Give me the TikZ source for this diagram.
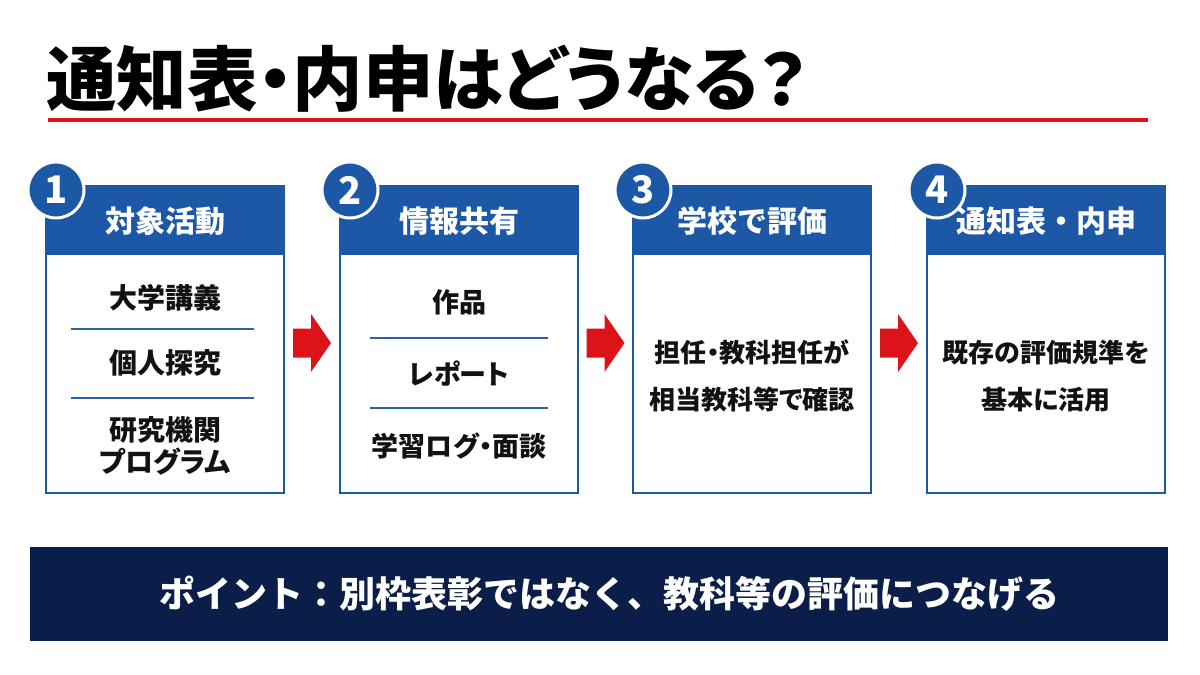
\documentclass[tikz,border=0pt]{standalone}
\usepackage{fontspec}
\setmainfont{Noto Sans CJK JP}
\newfontfamily\jpp{Noto Sans CJK JP}[RawFeature=+palt]
\usepackage{xcolor}
\usepackage{tikz}
\usetikzlibrary{calc,positioning}
\definecolor{cHdr}{HTML}{1D58A6}
\definecolor{cSep}{HTML}{2D62AA}
\definecolor{cNavy}{HTML}{0B1E4A}
\definecolor{cRed}{HTML}{DC1419}
\definecolor{cInk}{HTML}{121212}

\begin{document}
\begin{tikzpicture}[x=0.5pt,y=-0.5pt,
  box/.style={draw=cHdr,line width=1.3pt,fill=white,minimum width=119pt,
    minimum height=153.5pt,inner sep=0pt,outer sep=0pt},
  hd/.style={fill=cHdr,minimum width=120.3pt,minimum height=34.5pt,inner sep=0pt,
    anchor=north,text=white,font=\bfseries\fontsize{15}{18}\selectfont},
  num/.style={circle,fill=cHdr,draw=white,line width=1.5pt,minimum size=28pt,
    inner sep=0pt,text=white,font=\bfseries\fontsize{19}{20}\selectfont},
  itm/.style={text=cInk,align=center,inner sep=1pt,
    font=\jpp\bfseries\fontsize{13.5}{16}\selectfont},
  sep/.style={draw=cSep,line width=0.9pt},
  blk/.style={fill=cRed,draw=none}]

  \useasboundingbox[fill=white] (0,0) rectangle (1200,675);

  % title
  \node[anchor=west,inner sep=0pt,text=black,font=\jpp\bfseries\fontsize{35.2}{38}\selectfont]
    (title) at (46,79) {通知表・内申はどうなる？};
  \draw[cRed,line width=2pt] (48,120) -- (1148,120);

  % the four steps
  \foreach \i/\x/\h in {1/165/対象活動,2/459/情報共有,3/752/学校で評価,4/1046/通知表・内申}
    {\node[box] (box\i) at (\x,339.5) {};
     \node[hd] (hd\i) at (box\i.north) {\h};
     \node[num] (n\i) at ($(box\i.north west)+(10,4)$) {\i};}

  \node[itm,font=\jpp\bfseries\fontsize{14}{16}\selectfont] (it1a) at (165,298) {大学講義};
  \node[itm,font=\jpp\bfseries\fontsize{14}{16}\selectfont] (it1b) at (165,363) {個人探究};
  \node[itm,font=\jpp\bfseries\fontsize{14}{16}\selectfont] (it1c) at (165,446) {研究機関\\プログラム};
  \draw[sep] ($(box1.north west)+(25,143)$) -- ($(box1.north east)+(-30,143)$);
  \draw[sep] ($(box1.north west)+(25,212)$) -- ($(box1.north east)+(-30,212)$);

  \node[itm] (it2a) at (459,302) {作品};
  \node[itm] (it2b) at (459,374) {レポート};
  \node[itm] (it2c) at (459,446) {学習ログ・面談};
  \draw[sep] ($(box2.north west)+(30,152)$) -- ($(box2.north east)+(-30,152)$);
  \draw[sep] ($(box2.north west)+(30,222)$) -- ($(box2.north east)+(-30,222)$);

  \node[itm,font=\jpp\bfseries\fontsize{13}{23.5}\selectfont] (it3) at (752,376) {担任・教科担任が\\相当教科等で確認};
  \node[itm,font=\jpp\bfseries\fontsize{13}{23.5}\selectfont] (it4) at (1046,376) {既存の評価規準を\\基本に活用};

  % block arrows between the steps
  \foreach \a/\b in {1/2,2/3,3/4}
    {\coordinate (ar\a) at ($(box\a.east)!0.5!(box\b.west)+(0,3.5)$);
     \fill[blk] ($(ar\a)+(-19,-14.5)$) -- ($(ar\a)+(-1,-14.5)$) -- ($(ar\a)+(-1,-29)$)
       -- ($(ar\a)+(19,0)$) -- ($(ar\a)+(-1,29)$) -- ($(ar\a)+(-1,14.5)$)
       -- ($(ar\a)+(-19,14.5)$) -- cycle;}

  % bottom banner
  \node[fill=cNavy,minimum width=569pt,minimum height=47pt,inner sep=0pt,text=white,
    font=\bfseries\fontsize{18}{20}\selectfont] (point) at (599,594)
    {\hspace*{10pt}ポイント：別枠表彰ではなく、教科等の評価につなげる};
\end{tikzpicture}
\end{document}
